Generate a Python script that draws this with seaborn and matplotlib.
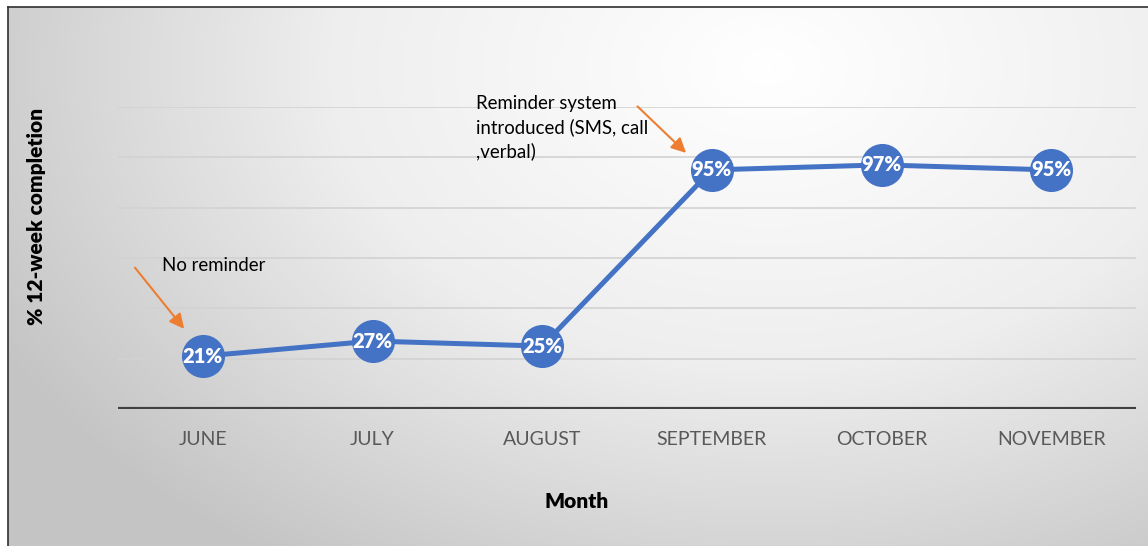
import numpy as np
import pandas as pd
import matplotlib
matplotlib.use("Agg")
import matplotlib.pyplot as plt
from matplotlib.colors import LinearSegmentedColormap
import seaborn as sns

# dados
meses = ["JUNE", "JULY", "AUGUST", "SEPTEMBER", "OCTOBER", "NOVEMBER"]
conclusao = [21, 27, 25, 95, 97, 95]
grade_y = [20, 40, 60, 80, 100, 120]

AZUL = "#4472C4"
LARANJA = "#ED7D31"

sns.set_style("white")
plt.rcParams['font.family'] = ['Lato', 'DejaVu Sans']
plt.rcParams['text.color'] = 'black'

df = pd.DataFrame({"mes": meses, "pct": conclusao})

fig = plt.figure(figsize=(11.48, 5.46), dpi=100)

# fundo com gradiente (estilo Excel)
bg = fig.add_axes([8 / 1148, 0, 1 - 8 / 1148, 1 - 7 / 546])
h, w = 539, 1140
yy, xx = np.mgrid[0:h, 0:w]
dist = np.sqrt(((xx - 760) / 880.0) ** 2 + ((yy - 60) / 600.0) ** 2)
dist = np.clip(dist, 0, 1)
cmap = LinearSegmentedColormap.from_list("bg", ["#ffffff", "#eeeeee", "#c4c4c4"])
bg.imshow(dist, cmap=cmap, aspect="auto", extent=[0, 1, 0, 1], vmin=0, vmax=1)
bg.set_xlim(0, 1)
bg.set_ylim(0, 1)
bg.set_xticks([])
bg.set_yticks([])
for s in ["right", "bottom"]:
    bg.spines[s].set_visible(False)
for s in ["left", "top"]:
    bg.spines[s].set_color("#303030")
    bg.spines[s].set_linewidth(1.2)

ax = fig.add_axes([118 / 1148, 1 - 409 / 546, (1136 - 118) / 1148, (409 - 107) / 546])
ax.patch.set_alpha(0)

for g in grade_y:
    ax.axhline(g, color="#d2d2d2", linewidth=1.2, zorder=0)
ax.axhline(0, color="#404040", linewidth=3, zorder=1)

sns.pointplot(data=df, x="mes", y="pct", order=meses, color=AZUL,
              errorbar=None, markers="o", markersize=31, linewidth=3.6,
              markeredgewidth=0, ax=ax, zorder=3)

for i, v in enumerate(conclusao):
    ax.text(i, v, f"{v}%", color="white", fontsize=14.5, fontweight="heavy",
            ha="center", va="center", zorder=5)

ax.set_xlim(-0.5, len(meses) - 0.5)
ax.set_ylim(0, 120)
ax.set_yticks([])
ax.set_xticks(range(len(meses)))
ax.set_xticklabels(meses, fontsize=14, color="#595959")
ax.tick_params(axis="x", length=0, pad=16)
for s in ax.spines.values():
    s.set_visible(False)

ax.set_xlabel("")
ax.set_ylabel("")
fig.text(577 / 1148, 1 - 501 / 546, "Month", fontsize=15, fontweight="heavy",
         ha="center", va="center")
fig.text(37 / 1148, 1 - 216 / 546, "% 12-week completion", rotation=90,
         fontsize=15, fontweight="heavy", ha="center", va="center")

# anotacoes
ax.annotate("", xy=(-0.1, 31), xytext=(-0.41, 57),
            arrowprops=dict(arrowstyle="-|>", color=LARANJA, lw=1.5,
                            mutation_scale=22), annotation_clip=False)
ax.text(-0.24, 57, "No reminder", fontsize=13.4, va="center", ha="left")

ax.annotate("", xy=(2.86, 101), xytext=(2.55, 121),
            arrowprops=dict(arrowstyle="-|>", color=LARANJA, lw=1.5,
                            mutation_scale=22), annotation_clip=False)
ax.text(1.61, 124.8, "Reminder system\nintroduced (SMS, call\n,verbal)",
        fontsize=13.4, va="top", ha="left", linespacing=1.4)

fig.savefig("out.png", dpi=100)
